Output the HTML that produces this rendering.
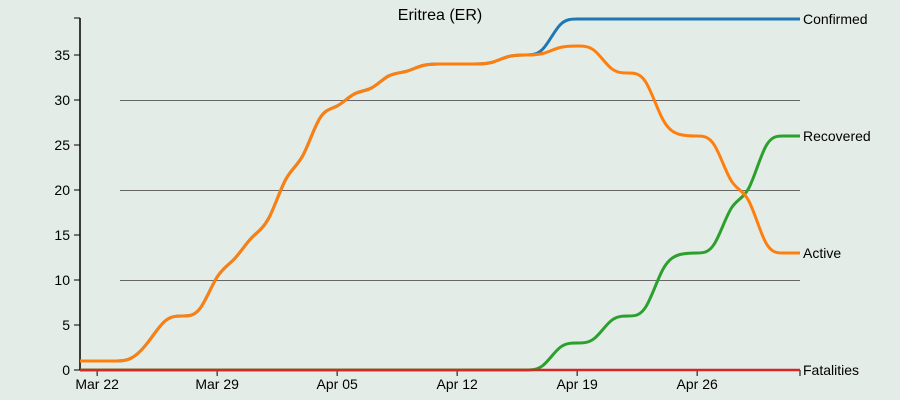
<!DOCTYPE html>
<html><head><meta charset="utf-8">
<style>
html,body{margin:0;padding:0;background:#e3ece6;}
svg{display:block;font-family:"Liberation Sans",sans-serif;}
</style></head>
<body>
<svg id="chart" width="900" height="400"></svg>
<script>
const dates = ["Mar 22","Mar 29","Apr 05","Apr 12","Apr 19","Apr 26"];
const dateIdx = [1,8,15,22,29,36];
const yTicks = [0,5,10,15,20,25,30,35];
const gridTicks = [10,20,30];
const confirmed = [1,1,1,1,3,6,6,6,11,12,15,16,22,23,29,29,31,31,33,33,34,34,34,34,34,35,35,35,39,39,39,39,39,39,39,39,39,39,39,39,39,39,39];
const recovered = [0,0,0,0,0,0,0,0,0,0,0,0,0,0,0,0,0,0,0,0,0,0,0,0,0,0,0,0,3,3,3,6,6,6,12,13,13,13,19,19,26,26,26];
const active = [1,1,1,1,3,6,6,6,11,12,15,16,22,23,29,29,31,31,33,33,34,34,34,34,34,35,35,35,36,36,36,33,33,33,27,26,26,26,20,20,13,13,13];
const fatalities = new Array(43).fill(0);

const NS="http://www.w3.org/2000/svg";
const svg=document.getElementById('chart');
const X0=80,X1=800,N=42;
const x=i=>X0+(X1-X0)*i/N;
const y=v=>370-9*v;
function el(t,a,p){const e=document.createElementNS(NS,t);for(const k in a)e.setAttribute(k,a[k]);(p||svg).appendChild(e);return e;}

gridTicks.forEach(t=>{
 const l=el('line',{x1:120,x2:800,y1:y(t)+0.5,y2:y(t)+0.5,stroke:'#666','stroke-width':1,'shape-rendering':'crispEdges'});
 
 
});
const ya=el('line',{x1:80,x2:80,y1:18,y2:370,stroke:'#000','stroke-width':1.5});


const xa=el('line',{x1:80,x2:800,y1:370,y2:370,stroke:'#000','stroke-width':1.5});


el('line',{x1:74,x2:80,y1:18,y2:18,stroke:'#000'});
yTicks.forEach(t=>{
 el('line',{x1:74,x2:80,y1:y(t),y2:y(t),stroke:'#000'});
 const tx=el('text',{x:70,y:y(t)+5,'text-anchor':'end','font-size':14,fill:'#000'});
 tx.textContent=t;
 
 
});
dates.forEach((d,k)=>{
 const xx=x(dateIdx[k]);
 el('line',{x1:xx,x2:xx,y1:370,y2:376,stroke:'#000'});
 const tx=el('text',{x:xx,y:389,'text-anchor':'middle','font-size':14,fill:'#000'});
 tx.textContent=d;
 
 
});
el('line',{x1:800,x2:800,y1:370,y2:376,stroke:'#000'});

function basis(vals){
 const px=vals.map((v,i)=>x(i)),py=vals.map(y),n=vals.length;
 let s='M'+px[0]+','+py[0];
 s+='L'+((5*px[0]+px[1])/6)+','+((5*py[0]+py[1])/6);
 for(let i=1;i<n;i++){
  const x0=px[i-1],y0=py[i-1],x1=px[i],y1=py[i];
  const x2=i+1<n?px[i+1]:px[i],y2=i+1<n?py[i+1]:py[i];
  if(i+1<n){
   s+=`C${(2*x0+x1)/3},${(2*y0+y1)/3} ${(x0+2*x1)/3},${(y0+2*y1)/3} ${(x0+4*x1+x2)/6},${(y0+4*y1+y2)/6}`;
  } else {
   s+=`C${(2*x0+x1)/3},${(2*y0+y1)/3} ${(x0+2*x1)/3},${(y0+2*y1)/3} ${x1},${y1}`;
  }
 }
 return s;
}
const series=[[confirmed,'#1f77b4','Confirmed',3],[recovered,'#2ca02c','Recovered',3],[fatalities,'#d62728','Fatalities',2.5],[active,'#ff7f0e','Active',3]];
series.forEach(([vals,c,name,w])=>{
 const p=el('path',{d:basis(vals),fill:'none',stroke:c,'stroke-width':w});
 
 
 const t=el('text',{x:803,y:y(vals[vals.length-1])+5,'font-size':14,fill:'#000'});
 t.textContent=name;
 
 
});
const title=el('text',{x:440,y:20,'text-anchor':'middle','font-size':16,fill:'#000'});
title.textContent='Eritrea (ER)';


</script>
</body></html>
